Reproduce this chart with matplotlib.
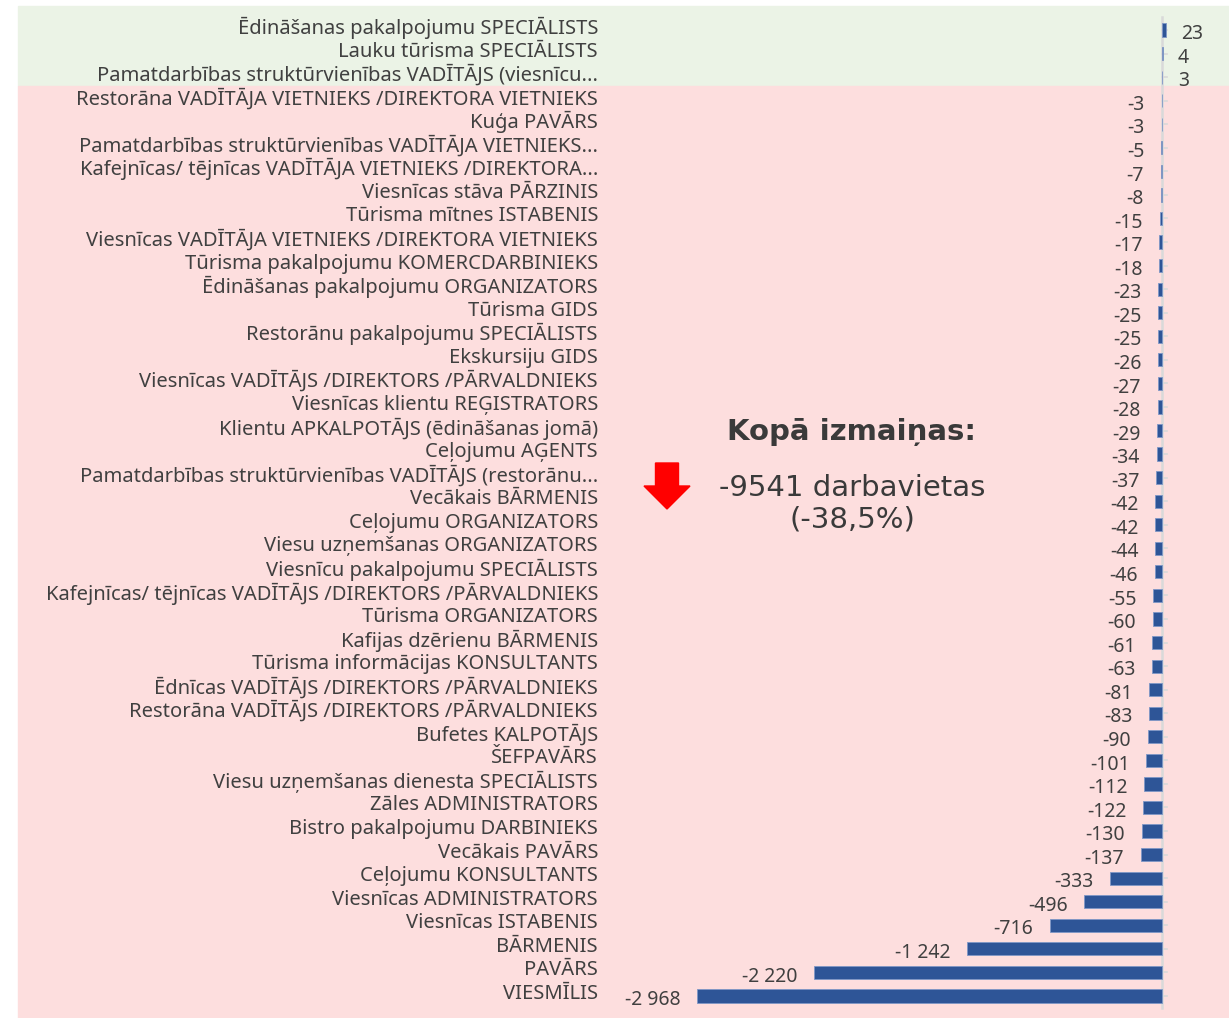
import matplotlib.pyplot as plt
import matplotlib.transforms as mtransforms
from matplotlib.patches import Rectangle, FancyArrow

plt.rcParams['font.family'] = ['Noto Sans', 'DejaVu Sans']

# Occupations and change in number of jobs (top to bottom)
categories = [
    "Ēdināšanas pakalpojumu SPECIĀLISTS",
    "Lauku tūrisma SPECIĀLISTS",
    "Pamatdarbības struktūrvienības VADĪTĀJS (viesnīcu...",
    "Restorāna VADĪTĀJA VIETNIEKS /DIREKTORA VIETNIEKS",
    "Kuģa PAVĀRS",
    "Pamatdarbības struktūrvienības VADĪTĀJA VIETNIEKS...",
    "Kafejnīcas/ tējnīcas VADĪTĀJA VIETNIEKS /DIREKTORA...",
    "Viesnīcas stāva PĀRZINIS",
    "Tūrisma mītnes ISTABENIS",
    "Viesnīcas VADĪTĀJA VIETNIEKS /DIREKTORA VIETNIEKS",
    "Tūrisma pakalpojumu KOMERCDARBINIEKS",
    "Ēdināšanas pakalpojumu ORGANIZATORS",
    "Tūrisma GIDS",
    "Restorānu pakalpojumu SPECIĀLISTS",
    "Ekskursiju GIDS",
    "Viesnīcas VADĪTĀJS /DIREKTORS /PĀRVALDNIEKS",
    "Viesnīcas klientu REĢISTRATORS",
    "Klientu APKALPOTĀJS (ēdināšanas jomā)",
    "Ceļojumu AĢENTS",
    "Pamatdarbības struktūrvienības VADĪTĀJS (restorānu...",
    "Vecākais BĀRMENIS",
    "Ceļojumu ORGANIZATORS",
    "Viesu uzņemšanas ORGANIZATORS",
    "Viesnīcu pakalpojumu SPECIĀLISTS",
    "Kafejnīcas/ tējnīcas VADĪTĀJS /DIREKTORS /PĀRVALDNIEKS",
    "Tūrisma ORGANIZATORS",
    "Kafijas dzērienu BĀRMENIS",
    "Tūrisma informācijas KONSULTANTS",
    "Ēdnīcas VADĪTĀJS /DIREKTORS /PĀRVALDNIEKS",
    "Restorāna VADĪTĀJS /DIREKTORS /PĀRVALDNIEKS",
    "Bufetes KALPOTĀJS",
    "ŠEFPAVĀRS",
    "Viesu uzņemšanas dienesta SPECIĀLISTS",
    "Zāles ADMINISTRATORS",
    "Bistro pakalpojumu DARBINIEKS",
    "Vecākais PAVĀRS",
    "Ceļojumu KONSULTANTS",
    "Viesnīcas ADMINISTRATORS",
    "Viesnīcas ISTABENIS",
    "BĀRMENIS",
    "PAVĀRS",
    "VIESMĪLIS",
]
changes = [23, 4, 3, -3, -3, -5, -7, -8, -15, -17, -18, -23, -25, -25, -26,
           -27, -28, -29, -34, -37, -42, -42, -44, -46, -55, -60, -61, -63,
           -81, -83, -90, -101, -112, -122, -130, -137, -333, -496, -716,
           -1242, -2220, -2968]
total_title = "Kopā izmaiņas:"
total_text = "-9541 darbavietas\n(-38,5%)"

W, H = 1229, 1018
fig = plt.figure(figsize=(W / 100, H / 100), dpi=100)

# background bands (green = growth, pink = decline)
fig.add_artist(Rectangle((18 / W, 1 - 86 / H), (W - 18) / W, 80 / H,
                         transform=fig.transFigure, color="#EBF3E6", zorder=0))
fig.add_artist(Rectangle((18 / W, 0), (W - 18) / W, 1 - 86 / H,
                         transform=fig.transFigure, color="#FDDEDE", zorder=0))

# axes: rows spaced 23.56 px, first row centred at y=30 px
ax_left, ax_right = 612, 1229
ax_top, ax_bot = 6, 1018
ax = fig.add_axes([ax_left / W, 1 - ax_bot / H, (ax_right - ax_left) / W,
                   (ax_bot - ax_top) / H])
ax.patch.set_alpha(0)

px_per_unit = (1162 - 697) / 2968
ax.set_xlim(-2968 - (697 - ax_left) / px_per_unit, (ax_right - 1162) / px_per_unit)
step = 23.56
ax.set_ylim((ax_bot - 30) / step, -(30 - ax_top) / step)

y = list(range(len(categories)))
ax.barh(y, changes, height=0.56, color="#2E5597", edgecolor="#7F97C6",
        linewidth=0.6, zorder=3)

# zero axis with small ticks
ax.plot([0, 0], [-0.55, len(categories) - 0.5], color="#D9D9D9", lw=1.8, zorder=2)
for yi in y:
    ax.plot([0, 32], [yi, yi], color="#D9D9D9", lw=1.2, zorder=2)

for yi, v in zip(y, changes):
    lbl = f"{v:,}".replace(",", " ")
    if v >= 0:
        ax.annotate(lbl, (v, yi), xytext=(11, -3), textcoords="offset points",
                    ha="left", va="center", fontsize=14, color="#404040")
    else:
        ax.annotate(lbl, (v, yi), xytext=(-12, -3), textcoords="offset points",
                    ha="right", va="center", fontsize=14, color="#404040")

# category labels, sitting slightly above the bar centre
lab_tr = mtransforms.blended_transform_factory(ax.transAxes, ax.transData)
lab_tr = lab_tr + mtransforms.ScaledTranslation(-14 / 100, 2 / 100, fig.dpi_scale_trans)
for yi, c in zip(y, categories):
    ax.text(0, yi, c, transform=lab_tr, ha="right", va="center",
            fontsize=14.5, color="#404040", clip_on=False)

ax.set_yticks([])
ax.set_xticks([])
for s in ax.spines.values():
    s.set_visible(False)

# total change annotation
fig.text(852 / W, 1 - 432 / H, total_title, family="DejaVu Sans",
         fontweight="bold", fontsize=21, color="#3A3A3A", ha="center", va="center")
fig.text(852 / W, 1 - 504 / H, total_text, family="DejaVu Sans", fontsize=21,
         color="#3A3A3A", ha="center", va="center", linespacing=1.15)
fig.add_artist(FancyArrow(667 / W, 1 - 463 / H, 0, -46 / H, width=23 / W,
                          head_width=46 / W, head_length=23 / H,
                          length_includes_head=True, transform=fig.transFigure,
                          color="#FF0000", zorder=5))

fig.savefig("out.png", dpi=100)
